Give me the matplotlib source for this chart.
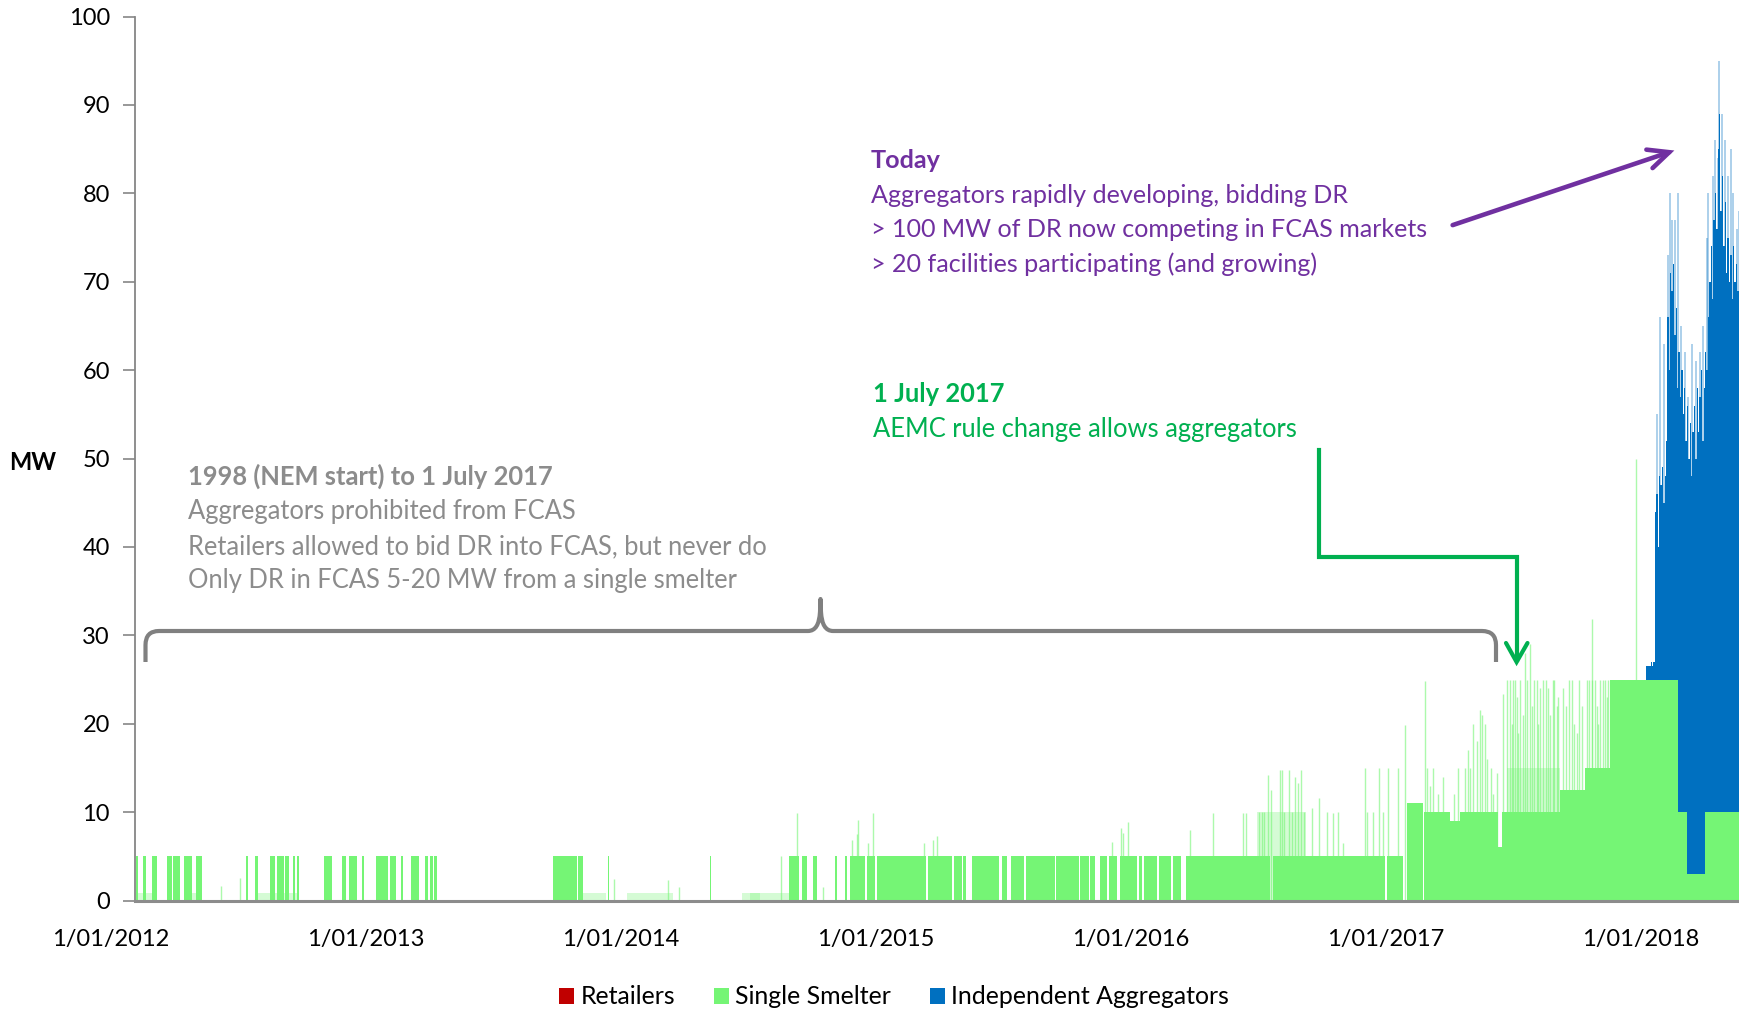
import numpy as np
import matplotlib
matplotlib.use("Agg")
import matplotlib.pyplot as plt
from matplotlib import transforms
from matplotlib.path import Path
from matplotlib.patches import PathPatch, Patch, FancyArrowPatch
from matplotlib.lines import Line2D

plt.rcParams['font.family'] = ['Lato', 'DejaVu Sans']

# ---------------- data (days counted from 1/01/2012) ----------------
year_tick_labels = ["1/01/2012", "1/01/2013", "1/01/2014", "1/01/2015",
                    "1/01/2016", "1/01/2017", "1/01/2018"]
year_tick_dates = ["2012-01-01", "2013-01-01", "2014-01-01", "2015-01-01",
                   "2016-01-01", "2017-01-01", "2018-01-01"]
x_range_days = [35.1, 2332.7]

# Single Smelter: solid blocks (start day, end day, MW)
smelter_start = [36, 47, 60, 81, 90, 105, 123, 194, 207, 228, 239, 250, 262, 267,
                 306, 332, 341, 360, 380, 400, 416, 430, 450, 457, 464,
                 634, 670, 712, 858.7,
                 972, 990, 1006.5, 1038, 1051.5, 1059, 1083, 1097.5, 1171, 1208,
                 1221.5, 1234, 1277, 1290, 1312, 1355, 1388.7, 1403, 1417.4, 1430.7,
                 1446, 1473, 1480.4, 1501.4, 1522.4, 1540.6, 1665.6, 1828,
                 1856.7, 1881.5, 1918.8, 1933, 1988, 1993, 2076, 2112, 2148,
                 2246, 2258, 2284]
smelter_end = [39, 51, 66, 88, 100, 117, 131, 197, 212, 236, 248, 256, 264, 270,
               317, 338, 353, 363, 397, 409, 419, 442, 455, 462, 467,
               668, 677, 714.5, 859.7,
               986, 998, 1011.5, 1041, 1054.5, 1081, 1094.5, 1168, 1206, 1219.5,
               1225.5, 1272, 1284.5, 1308.5, 1353.5, 1386.8, 1401, 1410.7, 1428, 1442,
               1471, 1477.5, 1498.6, 1519.6, 1533, 1661, 1825.6, 1852,
               1880.6, 1918.8, 1933, 1988, 1993, 2076, 2112, 2148, 2246,
               2258, 2284, 2334]
smelter_mw = [5] * 57 + [11, 10, 9, 10, 6, 10, 12.5, 15, 25, 10, 3, 10]

# Single Smelter: intermittent (partly filled) periods
smelter_part_start = [38, 116, 212, 677, 740, 904, 916, 1642, 2000]
smelter_part_end = [66, 131, 268, 710, 806, 930, 972, 1712, 2076]
smelter_part_mw = [0.8, 0.8, 0.8, 0.8, 0.8, 0.8, 0.8, 10, 15]

# Single Smelter: short peaks (day, MW)
spike_day = [158, 185, 721, 798, 814, 961, 1020,
             984, 1092.7, 1071, 1069, 1061.7, 1085.6, 1165.3, 1177.7, 1183.4,
             1435, 1447, 1450.8, 1457, 1546.3, 1578.8, 1621.8, 1626.5, 1645.6,
             1649.4, 1652.3, 1658.5, 1662.8, 1675.2, 1677.6, 1681, 1688, 1691.9,
             1697, 1701, 1705.7, 1710, 1720.5, 1731.5, 1743, 1758.8,
             1751.5, 1765.8, 1796.8, 1800, 1808.8, 1817.4, 1823, 1830.2, 1844.6,
             1854, 1882.8, 1901.8, 1913.7, 1940, 1952, 1956.8, 1961, 1964, 1968.7,
             1985.4, 1995, 1999.8, 2009.4, 2011.8, 2016.6, 2022.8, 2026, 2028.5,
             2033.3, 2042.8, 2047.6, 2052.4, 2059.6, 2065.8, 2071.5, 2081, 2093,
             2100.2, 2114.5, 2121.7, 2126.5, 2133.7, 2140.8, 2145.6, 2121.6,
             2129.7, 2138.3, 2185,
             1886, 1890, 1895, 1908, 1925, 1930, 1945, 1948, 1972, 1977, 1981,
             2004, 2007, 2014, 2019, 2036, 2039, 2045, 2056, 2062, 2068, 2074,
             2085, 2089, 2097, 2104, 2108, 2118, 2131, 2143]
spike_mw = [1.6, 2.5, 2.4, 2.3, 1.5, 5, 1.5,
            9.9, 9.9, 9.1, 7.5, 6.8, 6.5, 6.5, 6.8, 7.3,
            6.6, 8.2, 7.6, 8.9, 8.0, 9.9, 9.9, 9.9, 10,
            10, 10, 14.2, 12.5, 14.8, 14.8, 10, 14.8, 10,
            14, 13.3, 14.8, 10, 10.5, 11.6, 10, 10,
            9.9, 6.5, 15, 10, 10, 15, 10, 15, 15,
            19.9, 24.8, 12, 10, 15, 20, 18, 21.5, 21, 20,
            14.4, 23.4, 25, 25, 25, 18.9, 21, 28, 25,
            29, 25, 24, 25, 24, 25, 22, 24, 25,
            19, 25, 31.8, 25, 25, 25, 25, 25,
            22, 25, 50,
            15, 13, 15, 14, 12, 15, 17, 15, 16, 15, 12,
            25, 20, 23, 25, 22, 25, 20, 25, 21, 25, 23,
            22, 25, 20, 25, 22, 25, 20, 23]

# Independent Aggregators (MW, stacked on Single Smelter), 2-day steps
agg_day = list(range(2200, 2334, 2))
agg_mw = [1.5, 1.5, 1.5, 2, 1.5, 2, 19, 21, 15, 23, 22, 24, 20, 23, 27,
          41, 35, 46, 44, 47, 39, 42, 33,
          52, 47, 50, 45, 48, 42,
          53, 47, 51, 45, 50, 53, 47, 55, 50, 54, 57, 49, 55,
          52, 50, 56, 60, 64, 58, 67, 70, 66, 75, 79, 68, 72, 64, 69, 61,
          65, 60, 63, 58, 64, 60, 62, 59, 61]
agg_peak_day = [2215, 2219.5, 2225, 2231, 2233.8, 2237, 2241, 2245.7, 2250, 2255,
                2260, 2266, 2271, 2276.8, 2281, 2286.3, 2288.7, 2295, 2299,
                2302, 2304.5, 2307.8, 2312.6, 2317.4, 2321, 2324.5, 2329.3, 2332]
agg_peak_mw = [30, 41, 38, 48, 55, 52, 52, 55, 55, 52,
               54, 60, 58, 59, 62, 65, 70, 72, 76,
               74, 85, 79, 76, 72, 75, 70, 66, 68]

# Retailers: no volume in the period
retail_day = []
retail_mw = []

legend_labels = ["Retailers", "Single Smelter", "Independent Aggregators"]

# ---------------- styling ----------------
GREEN = "#75F575"
BLUE = "#0070C0"
RED = "#C00000"
GRAY = "#8C8C8C"
PURPLE = "#7030A0"
TGREEN = "#00B050"
FS = 17      # axis labels
FA = 18.4    # annotations
FP = 18.1    # purple annotation
FL = 17.9    # legend

W, H = 1739, 1009
fig = plt.figure(figsize=(W / 100, H / 100), dpi=100)
ax = fig.add_axes([135 / W, 108.5 / H, 1604 / W, 883.9 / H])
T = transforms.Affine2D().scale(1 / W, -1 / H).translate(0, 1) + fig.transFigure

s_start = np.array(smelter_start, float)
s_end = np.array(smelter_end, float)
s_mw = np.array(smelter_mw, float)

ax.bar(smelter_part_start, smelter_part_mw,
       width=np.array(smelter_part_end) - np.array(smelter_part_start),
       align='edge', color=GREEN, alpha=0.3, lw=0, zorder=1.5)
ax.vlines(spike_day, 0, spike_mw, color=GREEN, alpha=0.6, lw=1.0, zorder=1.8)
ax.bar(s_start, s_mw, width=s_end - s_start, align='edge', color=GREEN, lw=0, zorder=2)


def smelter_level(d):
    idx = np.where((s_start <= d) & (s_end > d))[0]
    return s_mw[idx[0]] if len(idx) else 0.0


agg_base = np.array([smelter_level(d) for d in agg_day])
peak_base = np.array([smelter_level(d) for d in agg_peak_day])
ax.vlines(agg_peak_day, peak_base, peak_base + np.array(agg_peak_mw),
          color=BLUE, alpha=0.35, lw=1.3, zorder=2.5)
ax.bar(agg_day, agg_mw, width=2, bottom=agg_base, align='edge', color=BLUE, lw=0, zorder=3)
if retail_day:
    ax.bar(retail_day, retail_mw, width=1, color=RED, lw=0, zorder=3)

ax.set_xlim(*x_range_days)
ax.set_ylim(0, 100)
ax.set_yticks(range(0, 101, 10))
ax.set_xticks([])
for sp in ['top', 'right']:
    ax.spines[sp].set_visible(False)
ax.spines['left'].set_color('#868686')
ax.spines['left'].set_linewidth(1.3)
ax.spines['bottom'].set_color('#8C8C8C')
ax.spines['bottom'].set_linewidth(2.2)
ax.tick_params(axis='y', length=9, width=1.2, color='#868686', pad=9, labelsize=FS)

# date labels
day0 = np.datetime64('2012-01-01')
tick_days = [(np.datetime64(d) - day0).astype(int) for d in year_tick_dates]
bt = transforms.blended_transform_factory(ax.transData, T)
for d, lab in zip(tick_days, year_tick_labels):
    ax.text(d, 939.5, lab, transform=bt, ha='center', va='center', fontsize=FS, clip_on=False)

fig.text(33, 462, "MW", transform=T, ha='center', va='center', fontsize=FS, fontweight='bold')

# ---------------- annotations ----------------
fig.text(188.5, 485, "1998 (NEM start) to 1 July 2017", transform=T, color=GRAY,
         fontsize=FA, fontweight='bold', va='baseline')
for i, s in enumerate(["Aggregators prohibited from FCAS",
                       "Retailers allowed to bid DR into FCAS, but never do",
                       "Only DR in FCAS 5-20 MW from a single smelter"]):
    fig.text(188.5, 519.5 + 34.4 * i, s, transform=T, color=GRAY, fontsize=FA, va='baseline')

fig.text(871, 168, "Today", transform=T, color=PURPLE, fontsize=FP, fontweight='bold',
         va='baseline')
for i, s in enumerate(["Aggregators rapidly developing, bidding DR",
                       "> 100 MW of DR now competing in FCAS markets",
                       "> 20 facilities participating (and growing)"]):
    fig.text(871, 203 + 34.4 * i, s, transform=T, color=PURPLE, fontsize=FP, va='baseline')

fig.text(873, 402, "1 July 2017", transform=T, color=TGREEN, fontsize=FA, fontweight='bold',
         va='baseline')
fig.text(873, 437, "AEMC rule change allows aggregators", transform=T, color=TGREEN,
         fontsize=FA, va='baseline')

# purple arrow
fig.add_artist(FancyArrowPatch((1450, 226), (1677, 149.6), transform=T,
                               arrowstyle="->,head_length=0.75,head_width=0.35",
                               mutation_scale=20, lw=3.3, color=PURPLE,
                               capstyle='round', joinstyle='miter'))

# green elbow arrow
fig.add_artist(Line2D([1318.5, 1318.5, 1516.6, 1516.6], [450, 557, 557, 660],
                      transform=T, color=TGREEN, lw=3.0, solid_joinstyle='miter'))
fig.add_artist(Line2D([1506, 1516.6, 1527.5], [643, 662, 643], transform=T,
                      color=TGREEN, lw=3.0, solid_joinstyle='miter', solid_capstyle='round'))

# gray brace
verts = [(145.5, 662), (145.5, 645), (145.5, 631), (159, 631),
         (808, 631), (819, 631), (820, 612), (820.5, 599), (821, 612), (822, 631), (833, 631),
         (1482, 631), (1496, 631), (1496, 645), (1496, 662)]
codes = [Path.MOVETO, Path.LINETO, Path.CURVE3, Path.CURVE3,
         Path.LINETO, Path.CURVE3, Path.CURVE3, Path.LINETO, Path.LINETO, Path.CURVE3, Path.CURVE3,
         Path.LINETO, Path.CURVE3, Path.CURVE3, Path.LINETO]
fig.add_artist(PathPatch(Path(verts, codes), transform=T, fill=False, edgecolor='#808080',
                         lw=3.0, capstyle='butt', joinstyle='round'))

# legend
handles = [Patch(facecolor=c, edgecolor='none') for c in (RED, GREEN, BLUE)]
fig.legend(handles, legend_labels, loc='center', bbox_to_anchor=(894 / W, 1 - 997 / H),
           ncol=3, frameon=False, fontsize=FL, handlelength=0.6, handleheight=0.6,
           handletextpad=0.27, columnspacing=1.55)

fig.savefig("out.png", dpi=100)
